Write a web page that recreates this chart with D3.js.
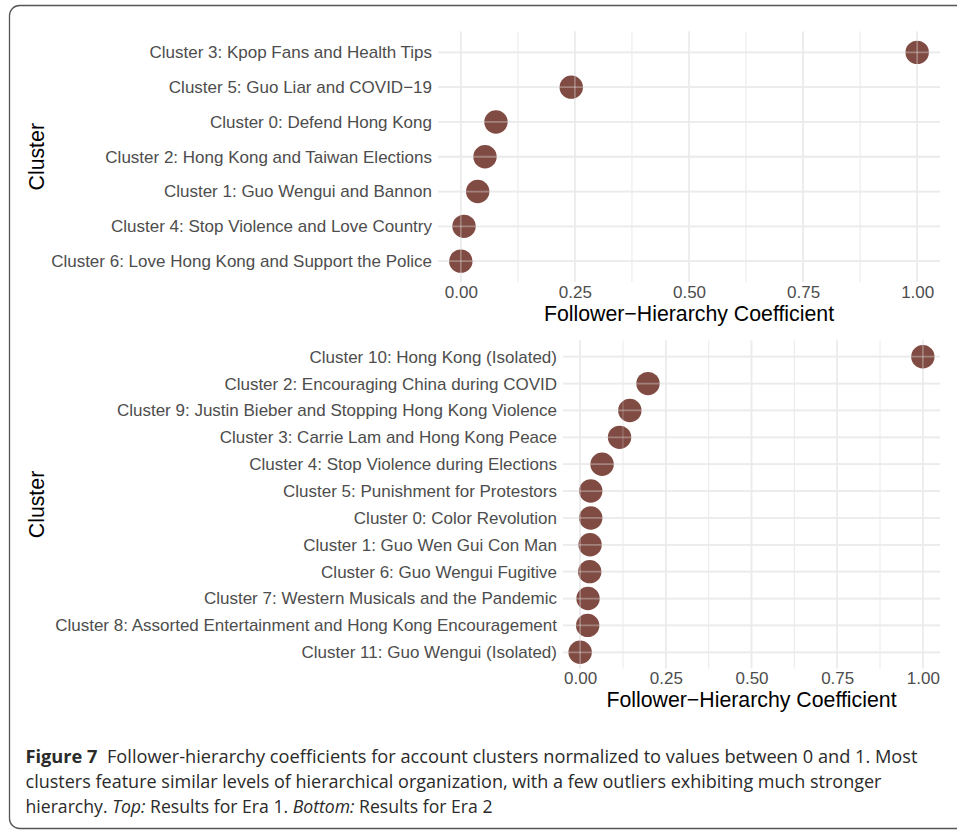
<!DOCTYPE html>
<html>
<head>
<meta charset="utf-8">
<script src="https://cdn.jsdelivr.net/npm/d3@7"></script>
<style>
  body { margin: 0; background: #fff; }
  svg { display: block; }
  .tick text { font-family: "Liberation Sans", Arial, sans-serif; fill: #4d4d4d; }
</style>
</head>
<body>
<div id="chart"></div>
<script>
// Era 1 clusters (top to bottom)
var era1Labels = [
  "Cluster 3: Kpop Fans and Health Tips",
  "Cluster 5: Guo Liar and COVID\u221219",
  "Cluster 0: Defend Hong Kong",
  "Cluster 2: Hong Kong and Taiwan Elections",
  "Cluster 1: Guo Wengui and Bannon",
  "Cluster 4: Stop Violence and Love Country",
  "Cluster 6: Love Hong Kong and Support the Police"
];
var era1Values = [1.00, 0.242, 0.077, 0.053, 0.037, 0.007, 0.000];

// Era 2 clusters (top to bottom)
var era2Labels = [
  "Cluster 10: Hong Kong (Isolated)",
  "Cluster 2: Encouraging China during COVID",
  "Cluster 9: Justin Bieber and Stopping Hong Kong Violence",
  "Cluster 3: Carrie Lam and Hong Kong Peace",
  "Cluster 4: Stop Violence during Elections",
  "Cluster 5: Punishment for Protestors",
  "Cluster 0: Color Revolution",
  "Cluster 1: Guo Wen Gui Con Man",
  "Cluster 6: Guo Wengui Fugitive",
  "Cluster 7: Western Musicals and the Pandemic",
  "Cluster 8: Assorted Entertainment and Hong Kong Encouragement",
  "Cluster 11: Guo Wengui (Isolated)"
];
var era2Values = [1.00, 0.198, 0.145, 0.115, 0.064, 0.031, 0.031, 0.029, 0.028, 0.023, 0.022, 0.000];

var xTicks = [0, 0.25, 0.5, 0.75, 1];
var xMinor = [0.125, 0.375, 0.625, 0.875];
var xTitle = "Follower\u2212Hierarchy Coefficient";
var yTitle = "Cluster";

var W = 957, H = 833;
var svg = d3.select("#chart").append("svg")
    .attr("width", W).attr("height", H);

// outer frame of the figure box
svg.append("rect")
    .attr("x", 9.5).attr("y", 5.5)
    .attr("width", 1000).attr("height", 823)
    .attr("rx", 10)
    .attr("fill", "none")
    .attr("stroke", "#555")
    .attr("stroke-width", 1.3);

function drawPanel(labels, values, box) {
  var g = svg.append("g");

  var x = d3.scaleLinear().domain([-0.05, 1.05]).range([box.left, box.right]);
  var y = d3.scalePoint().domain(labels).range([box.top, box.bottom]).padding(0.6);

  function grid(layer, opacity) {
    layer.selectAll(".minor").data(xMinor).enter().append("line")
        .attr("x1", function(d) { return x(d); }).attr("x2", function(d) { return x(d); })
        .attr("y1", box.top).attr("y2", box.bottom)
        .attr("stroke", "#ebebeb").attr("stroke-width", 0.9).attr("opacity", opacity);
    layer.selectAll(".major").data(xTicks).enter().append("line")
        .attr("x1", function(d) { return x(d); }).attr("x2", function(d) { return x(d); })
        .attr("y1", box.top).attr("y2", box.bottom)
        .attr("stroke", "#ebebeb").attr("stroke-width", 1.7).attr("opacity", opacity);
    layer.selectAll(".hline").data(labels).enter().append("line")
        .attr("x1", box.left).attr("x2", box.right)
        .attr("y1", function(d) { return y(d); }).attr("y2", function(d) { return y(d); })
        .attr("stroke", "#ebebeb").attr("stroke-width", 1.8).attr("opacity", opacity);
  }

  grid(g.append("g"), 1);

  g.append("g").selectAll("circle")
      .data(labels.map(function(l, i) { return { label: l, value: values[i] }; }))
      .enter().append("circle")
      .attr("cx", function(d) { return x(d.value); })
      .attr("cy", function(d) { return y(d.label); })
      .attr("r", 11.7)
      .attr("fill", "#6a2c22")
      .attr("fill-opacity", 0.85);

  // faint grid over the points, as in the reference
  grid(g.append("g"), 0.35);

  var xAxis = g.append("g")
      .attr("transform", "translate(0," + box.bottom + ")")
      .call(d3.axisBottom(x).tickValues(xTicks).tickSize(0).tickPadding(4).tickFormat(d3.format(".2f")));
  xAxis.select(".domain").remove();
  xAxis.selectAll("text").attr("font-size", 17);

  var yAxis = g.append("g")
      .attr("transform", "translate(" + box.left + ",0)")
      .call(d3.axisLeft(y).tickSize(0).tickPadding(6));
  yAxis.select(".domain").remove();
  yAxis.selectAll("text").attr("font-size", 17);

  g.append("text")
      .attr("x", (box.left + box.right) / 2)
      .attr("y", box.bottom + 39)
      .attr("text-anchor", "middle")
      .attr("font-family", "Liberation Sans, Arial, sans-serif")
      .attr("font-size", 21.3)
      .attr("fill", "#000")
      .text(xTitle);

  g.append("text")
      .attr("transform", "translate(44," + ((box.top + box.bottom) / 2) + ") rotate(-90)")
      .attr("text-anchor", "middle")
      .attr("font-family", "Liberation Sans, Arial, sans-serif")
      .attr("font-size", 21.3)
      .attr("fill", "#000")
      .text(yTitle);
}

drawPanel(era1Labels, era1Values, { left: 438, right: 940, top: 31.5, bottom: 282 });
drawPanel(era2Labels, era2Values, { left: 563, right: 940, top: 340.6, bottom: 668.4 });

// caption
var capFont = "Open Sans, Noto Sans, sans-serif";
var cap1 = svg.append("text")
    .attr("x", 25.5).attr("y", 763)
    .attr("font-family", capFont).attr("font-size", 18).attr("fill", "#2a2a2a")
    .attr("textLength", 892).attr("lengthAdjust", "spacingAndGlyphs");
cap1.append("tspan").attr("font-weight", "bold").text("Figure 7");
cap1.append("tspan").text("\u00a0\u00a0Follower-hierarchy coefficients for account clusters normalized to values between 0 and 1. Most");

svg.append("text")
    .attr("x", 25.5).attr("y", 788)
    .attr("font-family", capFont).attr("font-size", 18).attr("fill", "#2a2a2a")
    .attr("textLength", 856).attr("lengthAdjust", "spacingAndGlyphs")
    .text("clusters feature similar levels of hierarchical organization, with a few outliers exhibiting much stronger");

var cap3 = svg.append("text")
    .attr("x", 25.5).attr("y", 813)
    .attr("font-family", capFont).attr("font-size", 18).attr("fill", "#2a2a2a")
    .attr("textLength", 467).attr("lengthAdjust", "spacingAndGlyphs");
cap3.append("tspan").text("hierarchy. ");
cap3.append("tspan").attr("font-style", "italic").text("Top:");
cap3.append("tspan").text(" Results for Era 1. ");
cap3.append("tspan").attr("font-style", "italic").text("Bottom:");
cap3.append("tspan").text(" Results for Era 2");
</script>
</body>
</html>
